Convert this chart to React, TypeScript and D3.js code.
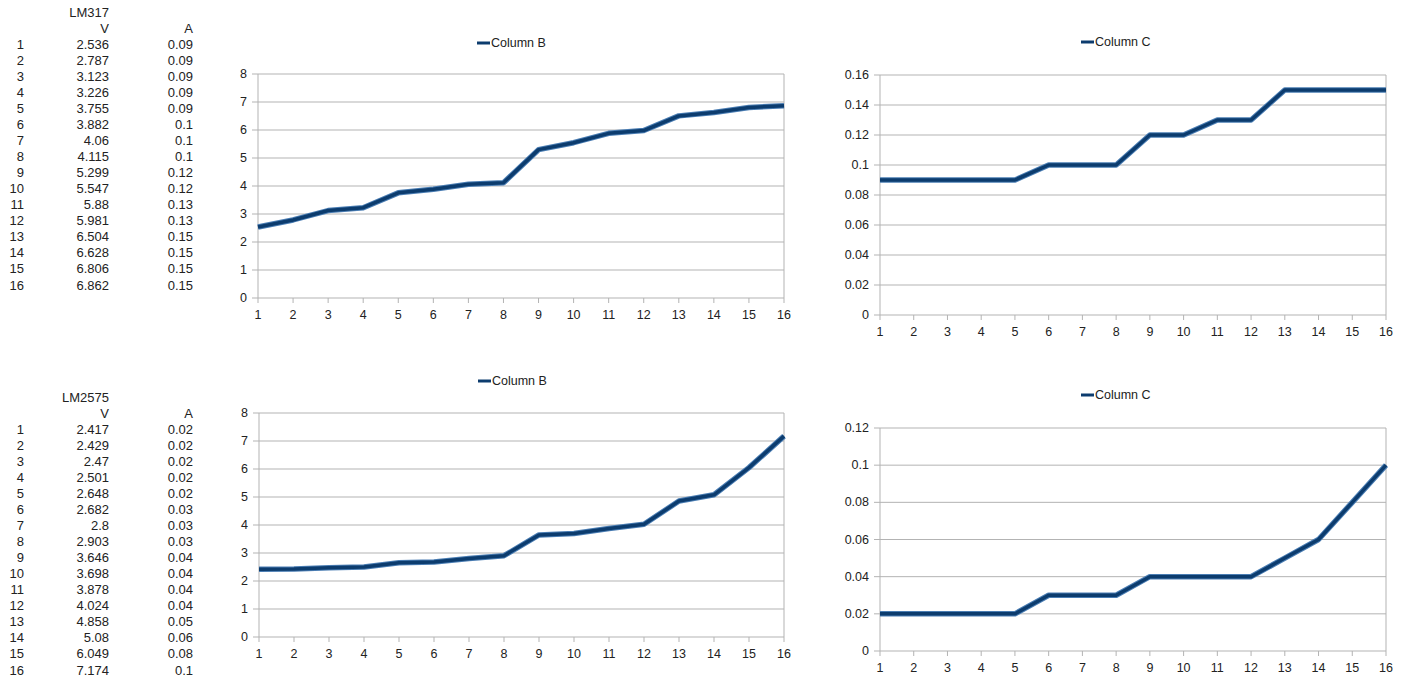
import React from "react";
import * as d3 from "d3";

const idx = d3.range(1, 17);
const lm317V = [2.536, 2.787, 3.123, 3.226, 3.755, 3.882, 4.06, 4.115, 5.299, 5.547, 5.88, 5.981, 6.504, 6.628, 6.806, 6.862];
const lm317A = [0.09, 0.09, 0.09, 0.09, 0.09, 0.1, 0.1, 0.1, 0.12, 0.12, 0.13, 0.13, 0.15, 0.15, 0.15, 0.15];
const lm2575V = [2.417, 2.429, 2.47, 2.501, 2.648, 2.682, 2.8, 2.903, 3.646, 3.698, 3.878, 4.024, 4.858, 5.08, 6.049, 7.174];
const lm2575A = [0.02, 0.02, 0.02, 0.02, 0.02, 0.03, 0.03, 0.03, 0.04, 0.04, 0.04, 0.04, 0.05, 0.06, 0.08, 0.1];

const voltTicks = [0, 1, 2, 3, 4, 5, 6, 7, 8];
const amp317Ticks = [0, 0.02, 0.04, 0.06, 0.08, 0.1, 0.12, 0.14, 0.16];
const amp2575Ticks = [0, 0.02, 0.04, 0.06, 0.08, 0.1, 0.12];

const FONT = "'Liberation Sans', Arial, sans-serif";
const GRID = "#b3b3b3";

type ChartCfg = {
  values: number[];
  ticks: number[];
  legend: string;
  x0: number; x1: number; yTop: number; yBot: number;
  lx: number; ly: number;
};

const charts: ChartCfg[] = [
  { values: lm317V, ticks: voltTicks, legend: "Column B", x0: 258, x1: 784, yTop: 74, yBot: 298, lx: 477, ly: 43 },
  { values: lm317A, ticks: amp317Ticks, legend: "Column C", x0: 880, x1: 1386, yTop: 75, yBot: 315, lx: 1081, ly: 42 },
  { values: lm2575V, ticks: voltTicks, legend: "Column B", x0: 259, x1: 784, yTop: 413, yBot: 637, lx: 478, ly: 381 },
  { values: lm2575A, ticks: amp2575Ticks, legend: "Column C", x0: 880, x1: 1386, yTop: 428, yBot: 651, lx: 1081, ly: 395 },
];

const fmt = (v: number) => String(+v.toFixed(2));

function Chart({ c }: { c: ChartCfg }) {
  const x = d3.scaleLinear().domain([1, 16]).range([c.x0, c.x1]);
  const y = d3.scaleLinear().domain([0, c.ticks[c.ticks.length - 1]]).range([c.yBot, c.yTop]);
  const line = d3.line<number>().x((_, i) => x(idx[i])).y((v) => y(v));
  const path = line(c.values) || "";
  return (
    <g>
      {c.ticks.map((t) => (
        <g key={"y" + t}>
          <line x1={c.x0 - 6} x2={c.x1} y1={y(t)} y2={y(t)} stroke={GRID} strokeWidth={1} />
          <text x={c.x0 - 11} y={y(t)} textAnchor="end" dominantBaseline="central" fontSize={12.5} fill="#222">{fmt(t)}</text>
        </g>
      ))}
      <line x1={c.x0} x2={c.x0} y1={c.yTop} y2={c.yBot} stroke={GRID} />
      <line x1={c.x1} x2={c.x1} y1={c.yTop} y2={c.yBot} stroke={GRID} />
      {idx.map((i) => (
        <g key={"x" + i}>
          <line x1={x(i)} x2={x(i)} y1={c.yBot} y2={c.yBot + 5} stroke={GRID} />
          <text x={x(i)} y={c.yBot + 17} textAnchor="middle" dominantBaseline="central" fontSize={12.5} fill="#222">{i}</text>
        </g>
      ))}
      <path d={path} fill="none" stroke="#4a7db3" strokeWidth={5.5} strokeLinejoin="round" />
      <path d={path} fill="none" stroke="#0c3c6e" strokeWidth={3.5} strokeLinejoin="round" />
      <line x1={c.lx} x2={c.lx + 13} y1={c.ly} y2={c.ly} stroke="#0c3c6e" strokeWidth={3} />
      <text x={c.lx + 14} y={c.ly} dominantBaseline="central" fontSize={12.5} fill="#222">{c.legend}</text>
    </g>
  );
}

type TableCfg = { title: string; v: number[]; a: number[]; y0: number };
const tables: TableCfg[] = [
  { title: "LM317", v: lm317V, a: lm317A, y0: 12 },
  { title: "LM2575", v: lm2575V, a: lm2575A, y0: 397 },
];

function Table({ t }: { t: TableCfg }) {
  return (
    <g fontSize={13} fill="#222">
      <text x={109} y={t.y0} textAnchor="end" dominantBaseline="central">{t.title}</text>
      <text x={109} y={t.y0 + 16} textAnchor="end" dominantBaseline="central">V</text>
      <text x={193} y={t.y0 + 16} textAnchor="end" dominantBaseline="central">A</text>
      {idx.map((i, k) => {
        const yy = t.y0 + 32 + k * 16.07;
        return (
          <g key={i}>
            <text x={24} y={yy} textAnchor="end" dominantBaseline="central">{i}</text>
            <text x={109} y={yy} textAnchor="end" dominantBaseline="central">{String(t.v[k])}</text>
            <text x={193} y={yy} textAnchor="end" dominantBaseline="central">{String(t.a[k])}</text>
          </g>
        );
      })}
    </g>
  );
}

export default function App() {
  return (
    <svg width={1401} height={684} style={{ position: "absolute", left: 0, top: 0, background: "#fff" }} fontFamily={FONT}>
      <rect width={1401} height={684} fill="#fff" />
      {tables.map((t) => <Table key={t.title} t={t} />)}
      {charts.map((c, i) => <Chart key={i} c={c} />)}
    </svg>
  );
}
